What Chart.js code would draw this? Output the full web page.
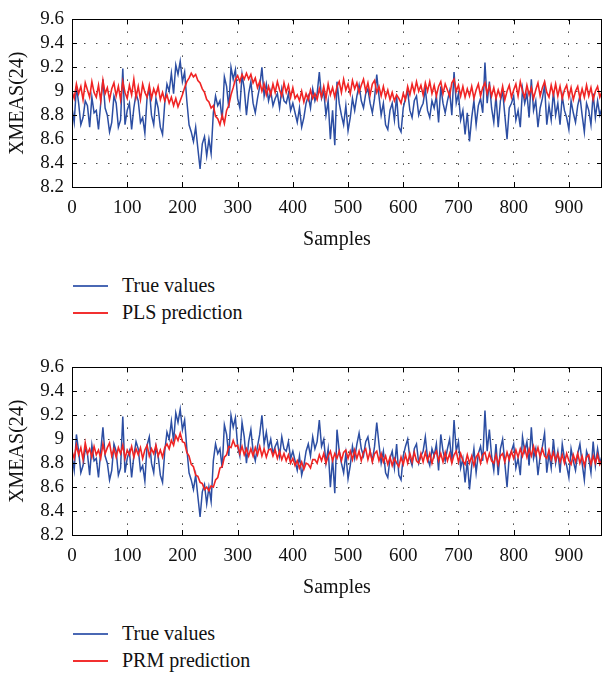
<!DOCTYPE html>
<html>
<head>
<meta charset="utf-8">
<script src="https://cdn.jsdelivr.net/npm/chart.js@4/dist/chart.umd.min.js"></script>
<style>
  html, body { margin: 0; padding: 0; background: #fff; }
  #wrap { position: relative; width: 602px; height: 673px; overflow: hidden; }
  canvas { position: absolute; left: 0; }
  .leg { position: absolute; left: 0; font-family: "Liberation Serif", "Times New Roman", serif; font-size: 20px; color: #111; }
  .item { position: absolute; left: 0; width: 300px; height: 26px; }
  .item .ln { position: absolute; left: 73px; width: 35px; top: 12px; height: 0; border-top: 2px solid; }
  .item .tx { position: absolute; left: 122px; top: 0; line-height: 24px; white-space: nowrap; }
</style>
</head>
<body>
<div id="wrap">
  <canvas id="c1" width="602" height="255" style="top:0px"></canvas>
  <canvas id="c2" width="602" height="255" style="top:348px"></canvas>
  <div class="leg" id="leg1" style="top:273px"></div>
  <div class="leg" id="leg2" style="top:621px"></div>
</div>
<script>
// ---------------- data (one value every 4 samples, samples 0..960) ----------------
const sampleStep = 4;
const xTicks = [0, 100, 200, 300, 400, 500, 600, 700, 800, 900];
const yTicks = [8.2, 8.4, 8.6, 8.8, 9.0, 9.2, 9.4, 9.6];
const seriesNames = ["True values", "PLS prediction", "PRM prediction"];

const trueValues = [
  8.86, 8.74, 9.04, 8.90, 8.72, 8.78, 8.92, 8.88, 8.70, 8.95,
  8.82, 8.84, 8.68, 8.90, 9.10, 8.86, 8.80, 8.66, 8.74, 8.96,
  8.90, 8.70, 8.76, 9.19, 8.72, 8.84, 8.90, 8.68, 8.86, 8.98,
  8.92, 8.74, 8.78, 8.65, 8.95, 9.02, 8.80, 8.72, 8.94, 8.86,
  8.70, 8.64, 8.90, 9.06, 9.00, 9.15, 8.98, 9.22, 9.14, 9.25,
  9.08, 9.16, 8.92, 8.72, 8.66, 8.58, 8.70, 8.52, 8.35, 8.56,
  8.62, 8.46, 8.60, 8.48, 8.82, 8.96, 8.88, 8.92, 8.76, 9.12,
  9.04, 8.86, 9.20, 9.10, 9.18, 8.94, 8.86, 9.14, 9.02, 8.80,
  8.98, 9.08, 8.90, 8.82, 8.94, 9.04, 9.20, 8.96, 9.06, 8.92,
  9.00, 8.88, 8.94, 8.98, 8.86, 9.02, 8.92, 8.90, 8.98, 8.84,
  8.90, 8.82, 8.74, 8.86, 8.70, 8.78, 8.90, 8.96, 8.86, 9.02,
  8.92, 8.98, 9.16, 8.94, 9.00, 8.80, 8.92, 8.60, 8.84, 8.55,
  9.08, 8.90, 8.80, 8.72, 8.88, 8.67, 8.78, 8.94, 8.84, 8.96,
  9.05, 8.92, 8.86, 8.98, 9.02, 8.90, 8.82, 8.94, 9.14, 8.96,
  8.80, 8.90, 8.72, 8.68, 8.84, 8.90, 8.76, 8.96, 8.70, 8.66,
  8.86, 8.94, 9.00, 8.84, 8.78, 8.92, 8.96, 8.80, 8.86, 8.90,
  9.02, 8.84, 8.78, 8.92, 8.86, 8.96, 8.74, 9.04, 8.90, 8.82,
  8.92, 9.00, 8.80, 9.16, 8.90, 8.98, 8.76, 8.84, 8.64, 8.82,
  8.58, 8.78, 8.92, 8.72, 8.88, 8.94, 8.82, 9.24, 8.90, 9.08,
  8.86, 8.74, 8.96, 8.70, 8.92, 9.00, 8.80, 8.60, 8.86, 8.90,
  8.96, 8.76, 8.84, 8.70, 9.02, 8.90, 8.98, 8.78, 9.10, 8.84,
  8.92, 8.70, 8.86, 8.94, 9.05, 8.72, 8.88, 8.76, 9.00, 8.80,
  8.90, 8.72, 8.96, 8.84, 8.78, 8.68, 8.92, 8.82, 8.74, 8.88,
  8.96, 8.80, 8.66, 8.90, 8.84, 8.72, 8.98, 8.78, 8.92, 8.80,
  8.86
];

const plsPrediction = [
  9.00, 8.94, 9.06, 8.98, 9.04, 8.93, 9.07, 9.01, 8.95, 9.08,
  8.99, 8.95, 9.05, 8.92, 9.09, 8.98, 9.03, 8.93, 9.02, 9.07,
  8.96, 9.04, 8.93, 9.08, 8.99, 8.94, 9.05, 8.97, 9.10, 8.95,
  9.04, 8.93, 9.06, 8.99, 8.95, 9.05, 8.94, 9.02, 8.97, 9.04,
  8.93, 8.99, 8.92, 8.97, 8.90, 8.95, 8.88, 8.94, 8.87, 8.92,
  8.97, 9.03, 9.08, 9.11, 9.15, 9.12, 9.14, 9.09, 9.07, 9.02,
  8.99, 8.93, 8.91, 8.86, 8.88, 8.79, 8.77, 8.72, 8.80, 8.73,
  8.84, 8.88, 8.97, 9.03, 9.10, 9.13, 9.08, 9.14, 9.10, 9.15,
  9.10, 9.14, 9.07, 9.11, 9.03, 9.08, 9.00, 9.06, 8.97, 9.04,
  8.97, 9.06, 8.99, 9.08, 9.01, 8.96, 9.07, 8.99, 9.05, 8.95,
  9.03, 8.94, 8.97, 8.92, 9.00, 8.91, 8.98, 8.93, 9.01, 8.94,
  8.98, 8.93, 9.02, 8.95, 9.04, 8.94, 9.06, 8.97, 9.03, 8.95,
  9.04, 9.08, 8.99, 9.10, 9.01, 9.06, 8.98, 9.09, 9.02, 9.07,
  8.99, 9.05, 9.10, 9.00, 9.07, 8.97, 9.06, 9.09, 8.99, 9.04,
  8.96, 9.04, 8.95, 9.01, 8.93, 8.99, 8.92, 8.97, 8.94, 8.90,
  8.98, 8.93, 9.04, 8.97, 9.06, 8.99, 9.08, 9.00, 9.05, 8.97,
  9.07, 9.00, 9.08, 8.98, 9.05, 8.96, 9.04, 9.08, 8.98, 9.06,
  9.01, 8.96, 9.07, 9.10, 9.00, 9.05, 8.96, 9.04, 8.95, 9.02,
  8.96, 9.04, 8.94, 9.01, 9.06, 8.96, 9.03, 9.07, 8.98, 9.05,
  8.96, 9.03, 8.94, 9.01, 8.95, 9.04, 8.93, 9.00, 9.05, 8.95,
  9.01, 9.06, 8.96, 9.08, 9.00, 8.95, 9.05, 8.97, 9.03, 8.94,
  9.01, 9.07, 8.96, 9.03, 9.08, 8.99, 8.95, 9.05, 8.97, 9.06,
  8.96, 9.04, 8.94, 9.01, 9.05, 8.95, 9.03, 8.93, 9.00, 9.04,
  8.94, 9.02, 8.95, 9.05, 8.96, 9.03, 8.93, 9.00, 9.04, 8.95,
  9.00
];

const prmPrediction = [
  8.90, 8.84, 8.95, 8.87, 8.93, 8.83, 8.97, 8.88, 8.92, 8.85,
  8.94, 8.87, 8.91, 8.84, 8.96, 8.88, 8.93, 8.97, 8.86, 8.92,
  8.85, 8.93, 8.88, 8.95, 8.84, 8.91, 8.87, 8.94, 8.85, 8.92,
  8.87, 8.93, 8.84, 8.91, 8.95, 8.86, 8.92, 8.88, 8.95, 8.86,
  8.91, 8.85, 8.93, 8.96, 8.92, 8.99, 8.95, 9.03, 8.99, 9.05,
  8.98, 8.97, 8.89, 8.86, 8.79, 8.77, 8.70, 8.69, 8.64, 8.63,
  8.58, 8.60, 8.57, 8.61, 8.60, 8.66, 8.68, 8.76, 8.77, 8.85,
  8.87, 8.94, 8.93, 8.99, 8.94, 8.95, 8.88, 8.94, 8.87, 8.92,
  8.86, 8.92, 8.86, 8.93, 8.87, 8.94, 8.86, 8.92, 8.85, 8.91,
  8.92, 8.86, 8.91, 8.84, 8.90, 8.83, 8.88, 8.82, 8.87, 8.80,
  8.84, 8.78, 8.82, 8.76, 8.81, 8.75, 8.80, 8.79, 8.76, 8.83,
  8.83, 8.80, 8.87, 8.82, 8.88, 8.80, 8.86, 8.90, 8.82, 8.88,
  8.84, 8.90, 8.82, 8.89, 8.91, 8.84, 8.90, 8.83, 8.91, 8.84,
  8.90, 8.82, 8.89, 8.92, 8.83, 8.90, 8.81, 8.88, 8.90, 8.82,
  8.88, 8.81, 8.86, 8.79, 8.85, 8.78, 8.84, 8.80, 8.77, 8.85,
  8.79, 8.87, 8.80, 8.88, 8.81, 8.89, 8.82, 8.80, 8.88, 8.81,
  8.89, 8.82, 8.88, 8.80, 8.87, 8.90, 8.82, 8.88, 8.81, 8.89,
  8.82, 8.88, 8.80, 8.87, 8.90, 8.81, 8.88, 8.82, 8.79, 8.87,
  8.80, 8.86, 8.78, 8.85, 8.88, 8.80, 8.87, 8.89, 8.81, 8.88,
  8.82, 8.80, 8.87, 8.79, 8.86, 8.88, 8.81, 8.89, 8.83, 8.90,
  8.84, 8.91, 8.85, 8.92, 8.86, 8.93, 8.85, 8.92, 8.86, 8.94,
  8.87, 8.93, 8.85, 8.92, 8.86, 8.84, 8.91, 8.83, 8.89, 8.82,
  8.88, 8.81, 8.87, 8.80, 8.88, 8.82, 8.79, 8.87, 8.81, 8.88,
  8.80, 8.86, 8.78, 8.85, 8.87, 8.79, 8.86, 8.80, 8.87, 8.79,
  8.83
];

// ---------------- styling ----------------
const BLUE = "#2c4ea3";
const RED = "#f02424";
const FONT = "'Liberation Serif', 'Times New Roman', serif";

const toXY = arr => arr.map((y, i) => ({ x: i * sampleStep, y: y }));

const framePlugin = {
  id: "frame",
  afterDraw(chart) {
    const { ctx, chartArea: a, scales } = chart;
    ctx.save();
    ctx.strokeStyle = "#000";
    ctx.lineWidth = 1;
    ctx.setLineDash([]);
    ctx.strokeRect(Math.round(a.left) + 0.5, Math.round(a.top) + 0.5,
                   Math.round(a.right - a.left) - 1, Math.round(a.bottom - a.top));
    const L = 5;
    ctx.beginPath();
    xTicks.forEach(v => {
      const px = Math.round(scales.x.getPixelForValue(v)) + 0.5;
      ctx.moveTo(px, a.bottom); ctx.lineTo(px, a.bottom - L);
      ctx.moveTo(px, a.top); ctx.lineTo(px, a.top + L);
    });
    yTicks.forEach(v => {
      const py = Math.round(scales.y.getPixelForValue(v)) + 0.5;
      ctx.moveTo(a.left, py); ctx.lineTo(a.left + L, py);
      ctx.moveTo(a.right, py); ctx.lineTo(a.right - L, py);
    });
    ctx.stroke();
    ctx.restore();
  }
};

function makeChart(id, predName, predValues) {
  return new Chart(document.getElementById(id), {
    type: "line",
    data: {
      datasets: [
        { label: seriesNames[0], data: toXY(trueValues), borderColor: BLUE, borderWidth: 1.5, pointRadius: 0, tension: 0, order: 2 },
        { label: predName, data: toXY(predValues), borderColor: RED, borderWidth: 1.6, pointRadius: 0, tension: 0, order: 1 }
      ]
    },
    options: {
      responsive: false,
      animation: false,
      devicePixelRatio: 1,
      layout: { padding: { top: 13, right: 0, left: 0, bottom: 0 } },
      plugins: { legend: { display: false }, tooltip: { enabled: false } },
      scales: {
        x: {
          type: "linear", min: 0, max: 960,
          afterBuildTicks: ax => { ax.ticks = xTicks.map(v => ({ value: v })); },
          afterFit: ax => { ax.height = 68; },
          ticks: { color: "#111", padding: 10, autoSkip: false, font: { family: FONT, size: 19 }, maxRotation: 0, callback: v => String(v) },
          grid: { color: "#444", lineWidth: 1, drawTicks: false },
          border: { display: false, dash: [1.5, 10.5] },
          title: { display: true, text: "Samples", color: "#111", font: { family: FONT, size: 20 }, padding: { top: 0, bottom: 3 } }
        },
        y: {
          type: "linear", min: 8.2, max: 9.6,
          afterBuildTicks: ax => { ax.ticks = yTicks.map(v => ({ value: v })); },
          afterFit: ax => { ax.width = 72; },
          ticks: { color: "#111", padding: 8, autoSkip: false, font: { family: FONT, size: 19 }, callback: v => String(+(+v).toFixed(1)) },
          grid: { color: "#444", lineWidth: 1, drawTicks: false },
          border: { display: false, dash: [1.5, 10.5] },
          title: { display: true, text: "XMEAS(24)", color: "#111", font: { family: FONT, size: 20 }, padding: { top: 6, bottom: 0 } }
        }
      }
    },
    plugins: [framePlugin]
  });
}

makeChart("c1", seriesNames[1], plsPrediction);
makeChart("c2", seriesNames[2], prmPrediction);

function buildLegend(id, names, colors) {
  const el = document.getElementById(id);
  names.forEach((n, i) => {
    const it = document.createElement("div");
    it.className = "item";
    it.style.top = (i * 26.5) + "px";
    it.innerHTML = '<div class="ln" style="border-color:' + colors[i] + '"></div><div class="tx"></div>';
    it.querySelector(".tx").textContent = n;
    el.appendChild(it);
  });
}
buildLegend("leg1", [seriesNames[0], seriesNames[1]], ["#4a68b4", "#f23030"]);
buildLegend("leg2", [seriesNames[0], seriesNames[2]], ["#4a68b4", "#f23030"]);
</script>
</body>
</html>
